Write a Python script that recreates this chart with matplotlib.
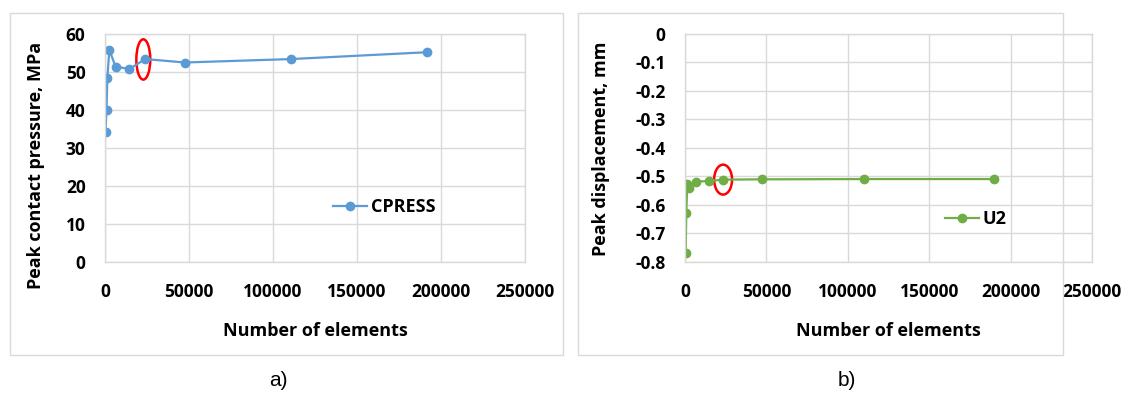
import matplotlib
matplotlib.use("Agg")
import matplotlib.pyplot as plt
from matplotlib.patches import Rectangle, Ellipse
from matplotlib.font_manager import FontProperties

plt.rcParams['font.family'] = ['Open Sans', 'DejaVu Sans']
plt.rcParams['font.weight'] = 'bold'

# Mesh convergence data
elements = [300, 900, 1400, 2600, 6300, 14500, 24000, 47500, 110500, 191500]
cpress = [34.2, 40.1, 48.5, 55.8, 51.4, 50.8, 53.4, 52.5, 53.4, 55.2]
elements_u2 = [400, 800, 1400, 2600, 6500, 14600, 23400, 47200, 110000, 190000]
u2 = [-0.770, -0.629, -0.527, -0.539, -0.518, -0.516, -0.511, -0.510, -0.509, -0.509]

x_ticks = [0, 50000, 100000, 150000, 200000, 250000]
cp_ticks = [0, 10, 20, 30, 40, 50, 60]
u2_ticks = [0, -0.1, -0.2, -0.3, -0.4, -0.5, -0.6, -0.7, -0.8]

# Selected mesh highlighted in both plots
sel_cp = (22800, 53.3)
sel_u2 = (23400, -0.511)

W, H = 1135, 398
fig = plt.figure(figsize=(W / 100, H / 100), dpi=100)
fig.patch.set_facecolor('white')

grid_c = '#D9D9D9'
blue = '#5B9BD5'
green = '#70AD47'
TICK_FS = 12.5
LABEL_FS = 13
tick_font = FontProperties(family='Open Sans', weight='bold', size=TICK_FS)


def px_axes(x0, y0, x1, y1):
    return fig.add_axes([x0 / W, 1 - y1 / H, (x1 - x0) / W, (y1 - y0) / H])


def panel(x0, y0, x1, y1):
    fig.patches.append(Rectangle((x0 / W, 1 - y1 / H), (x1 - x0) / W, (y1 - y0) / H,
                                 transform=fig.transFigure, fill=False,
                                 edgecolor=grid_c, linewidth=1.0, zorder=0))


def style(ax, xt, xl, yt, yl):
    ax.set_xticks(xt)
    ax.set_xticklabels(xl)
    ax.set_yticks(yt)
    ax.set_yticklabels(yl)
    ax.grid(True, color=grid_c, linewidth=1.0)
    ax.set_axisbelow(True)
    for s in ax.spines.values():
        s.set_color(grid_c)
        s.set_linewidth(1.0)
    ax.tick_params(axis='x', length=0, pad=15)
    ax.tick_params(axis='y', length=0, pad=14)


def bold_ticks(ax):
    for t in ax.xaxis.get_major_ticks() + ax.yaxis.get_major_ticks():
        t.label1.set_fontproperties(tick_font)


panel(10, 13, 563, 355)
panel(578, 13, 1063, 355)

# a) peak contact pressure
ax1 = px_axes(105, 34, 525, 262)
ax1.plot(elements, cpress, color=blue, linewidth=1.6, marker='o', markersize=6,
         label='CPRESS')
ax1.set_xlim(0, 250000)
ax1.set_ylim(0, 60)
style(ax1, x_ticks, [str(v) for v in x_ticks], cp_ticks, [str(v) for v in cp_ticks])
ax1.add_patch(Ellipse(sel_cp, 8300, 10.6, fill=False, edgecolor='red', linewidth=1.8))
ax1.set_xlabel('Number of elements', fontsize=LABEL_FS, fontweight='bold')
ax1.set_ylabel('Peak contact pressure, MPa', fontsize=LABEL_FS, fontweight='bold')
ax1.xaxis.set_label_coords(0.5, -0.263)
ax1.yaxis.set_label_coords(-0.143, 0.425)
ax1.legend(loc='center left', bbox_to_anchor=((333 - 105) / 420, (262 - 207) / 228),
           frameon=False, prop={'weight': 'bold', 'size': LABEL_FS}, handlelength=1.9,
           handletextpad=0.2, borderaxespad=0, borderpad=0)

# b) peak displacement
ax2 = px_axes(685, 34, 1092, 262)
ax2.plot(elements_u2, u2, color=green, linewidth=1.6, marker='o', markersize=6,
         label='U2')
ax2.set_xlim(0, 250000)
ax2.set_ylim(-0.8, 0)
style(ax2, x_ticks, [str(v) for v in x_ticks], u2_ticks,
      ['0'] + [f'{v:.1f}' for v in u2_ticks[1:]])
ax2.add_patch(Ellipse(sel_u2, 11000, 0.105, fill=False, edgecolor='red', linewidth=1.8))
ax2.set_xlabel('Number of elements', fontsize=LABEL_FS, fontweight='bold')
ax2.set_ylabel('Peak displacement, mm', fontsize=LABEL_FS, fontweight='bold')
ax2.xaxis.set_label_coords(0.5, -0.263)
ax2.yaxis.set_label_coords(-0.184, 0.496)
ax2.legend(loc='center left', bbox_to_anchor=((945 - 685) / 407, (262 - 219) / 228),
           frameon=False, prop={'weight': 'bold', 'size': LABEL_FS}, handlelength=1.9,
           handletextpad=0.2, borderaxespad=0, borderpad=0)

fig.text(278 / W, 1 - 381 / H, 'a)', ha='center', va='center', fontsize=15,
         fontweight='normal', family=['Liberation Sans', 'DejaVu Sans'])
fig.text(847 / W, 1 - 381 / H, 'b)', ha='center', va='center', fontsize=15,
         fontweight='normal', family=['Liberation Sans', 'DejaVu Sans'])

fig.canvas.draw()
bold_ticks(ax1)
bold_ticks(ax2)

fig.savefig('out.png', dpi=100, facecolor='white')
